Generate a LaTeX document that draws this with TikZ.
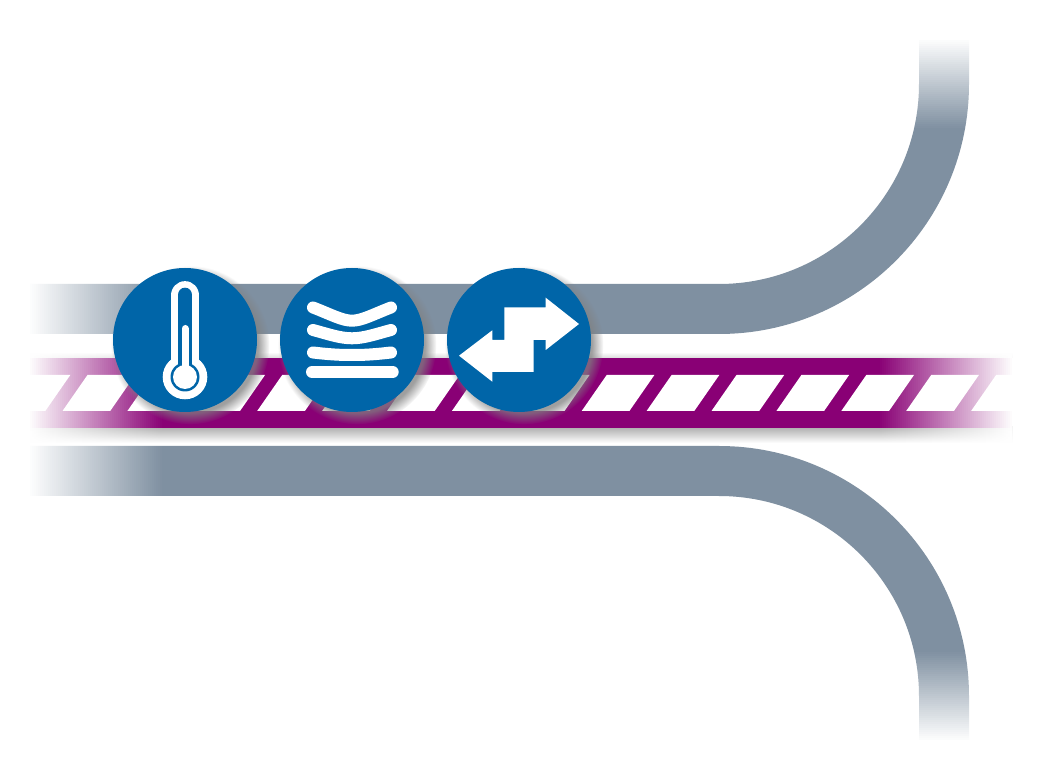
\documentclass[tikz,border=0pt]{standalone}
\usepackage{amsmath,amsfonts,amssymb}
\usetikzlibrary{shadows}
\definecolor{bandgray}{RGB}{127,144,161}
\definecolor{beltpurple}{RGB}{137,0,117}
\definecolor{iconblue}{RGB}{0,101,168}
\tikzstyle{band} = [draw=bandgray,line width=37.5pt]
\tikzstyle{gap} = [fill=white]
\tikzstyle{badge} = [circle,fill=iconblue,minimum size=108pt,inner sep=0pt,circular drop shadow={shadow xshift=3.5pt,shadow yshift=-3.5pt,shadow scale=1.1,opacity=.75}]
\tikzstyle{layer} = [draw=white,line width=9pt,line cap=round]
\begin{document}
\begin{tikzpicture}[x=.75pt,y=-.75pt]
        \useasboundingbox (0,0) rectangle (1040,780);
        \fill[white] (0,0) rectangle (1040,780);

        % upper and lower plates
        \draw[band] (30,309) -- (719,309) .. controls (843.3,309) and (944,208.3) .. (944,84) -- (944,40);
        \draw[band] (30,471) -- (719,471) .. controls (843.3,471) and (944,571.7) .. (944,696) -- (944,740);

        % belt
        \shade[top color=white,bottom color=black!14] (30,352) rectangle (1012,358);
        \shade[top color=black!32,bottom color=white] (30,427) rectangle (1012,443);
        \fill[beltpurple] (30,358) rectangle (1012,428);
        \foreach \k in {-1,...,14}
                \fill[gap] ({87.5+64.9*\k},375) -- ++(47.7,0) -- ++(-25,36) -- ++(-47.7,0) -- cycle;

        % fade out at the ends
        \foreach \i [evaluate=\i as \a using \i/67] in {0,...,66} {
                \fill[white,opacity=\a] ({164-2*\i},275) rectangle ({162-2*\i},505);
                \fill[white,opacity=\a] ({878+2*\i},345) rectangle ({880+2*\i},450);
        }
        \foreach \i [evaluate=\i as \a using \i/45] in {0,...,45} {
                \fill[white,opacity=\a] (910,{130-2*\i}) rectangle (980,{128-2*\i});
                \fill[white,opacity=\a] (910,{650+2*\i}) rectangle (980,{652+2*\i});
        }

        \node[badge] (temp) at (185,340) {};
        \node[badge] (stack) at (352,340) {};
        \node[badge] (swap) at (519,340) {};

        % thermometer
        \fill[white] (185,377) circle (22.3);
        \draw[white,line width=21.5pt,line cap=round] (185,295.5) -- (185,377);
        \fill[iconblue] (185,377) circle (14.5);
        \draw[iconblue,line width=11pt,line cap=round] (185,295) -- (185,370);
        \fill[white] (185,377) circle (12);
        \draw[white,line width=5.25pt,line cap=round] (185,328.5) -- (185,377);

        % layers
        \draw[layer] (313,307.5) .. controls (330,314) and (342,320.7) .. (352,320.7) .. controls (362,320.7) and (374,314) .. (391,307.5);
        \draw[layer] (313,330) .. controls (328,334) and (340,338.3) .. (352,338.3) .. controls (364,338.3) and (376,334) .. (391,330);
        \draw[layer] (313,352.5) .. controls (330,354.5) and (340,355) .. (352,355) .. controls (364,355) and (374,354.5) .. (391,352.5);
        \draw[layer] (312,372) -- (392.7,372);

        % exchange arrows
        \fill[white] (579,324) -- (545.7,297.7) -- (545.7,307.3) -- (504.3,307.3) -- (504.3,340) -- (492.3,340) -- (492.3,330.3) -- (459,355.7) -- (492.3,381.7) -- (492.3,372) -- (533.7,372) -- (533.7,340) -- (545.7,340) -- (545.7,350) -- cycle;
\end{tikzpicture}
\end{document}
